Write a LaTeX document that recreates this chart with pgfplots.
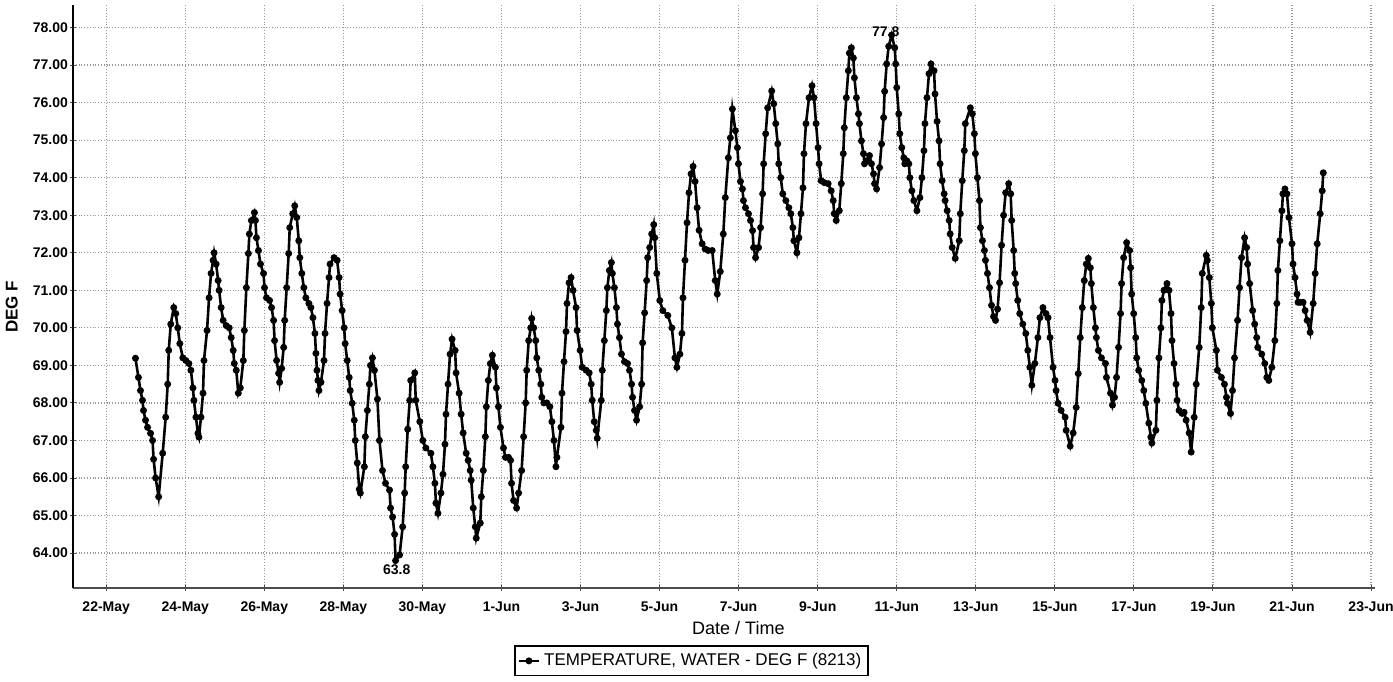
\documentclass[border=0pt]{standalone}
\usepackage{pgfplots}
\pgfplotsset{compat=1.18}
\usepackage{pgfplotstable}
\usepackage{fontspec}
\setmainfont{Liberation Sans}

\pgfplotstableread{
day temp
0.740 69.19
0.816 68.68
0.867 68.33
0.918 68.07
0.944 67.80
0.995 67.54
1.046 67.35
1.122 67.19
1.173 67.00
1.199 66.50
1.250 66.00
1.327 65.50
1.429 66.66
1.505 67.62
1.556 68.50
1.582 69.40
1.633 70.10
1.709 70.54
1.760 70.38
1.811 70.00
1.862 69.58
1.939 69.20
2.015 69.13
2.092 69.05
2.143 68.87
2.194 68.40
2.219 68.07
2.270 67.62
2.321 67.19
2.347 67.09
2.398 67.62
2.449 68.26
2.474 69.13
2.551 69.93
2.602 70.80
2.653 71.45
2.704 71.80
2.730 72.00
2.781 71.70
2.832 71.26
2.857 71.00
2.908 70.54
2.959 70.20
3.036 70.06
3.112 70.00
3.163 69.74
3.214 69.40
3.240 69.05
3.291 68.87
3.342 68.26
3.393 68.40
3.469 69.13
3.495 69.93
3.546 71.07
3.597 71.98
3.622 72.50
3.673 72.86
3.750 73.07
3.776 72.86
3.801 72.40
3.852 72.06
3.903 71.70
3.980 71.45
4.005 71.07
4.056 70.80
4.133 70.73
4.184 70.54
4.235 70.20
4.260 69.66
4.311 69.13
4.362 68.79
4.388 68.55
4.439 68.92
4.490 69.48
4.515 70.20
4.566 71.07
4.617 71.98
4.643 72.67
4.719 73.04
4.770 73.25
4.821 72.94
4.872 72.32
4.898 71.87
4.949 71.45
5.000 71.07
5.051 70.80
5.128 70.65
5.179 70.54
5.230 70.27
5.281 69.85
5.306 69.32
5.332 68.87
5.357 68.60
5.383 68.33
5.434 68.55
5.510 69.13
5.536 69.85
5.587 70.65
5.638 71.34
5.663 71.70
5.765 71.87
5.842 71.80
5.893 71.34
5.918 70.90
5.969 70.46
6.020 70.00
6.046 69.58
6.097 69.13
6.148 68.68
6.173 68.33
6.224 67.99
6.276 67.54
6.301 67.00
6.352 66.40
6.403 65.70
6.429 65.60
6.531 66.30
6.556 67.10
6.607 67.80
6.658 68.50
6.684 69.00
6.735 69.20
6.786 68.87
6.862 68.10
6.913 67.00
6.990 66.20
7.066 65.86
7.168 65.68
7.194 65.20
7.245 64.96
7.296 64.50
7.321 63.80
7.423 63.95
7.500 64.70
7.551 65.60
7.577 66.30
7.628 67.30
7.679 68.07
7.704 68.60
7.806 68.80
7.832 68.07
7.934 67.50
8.010 67.00
8.087 66.80
8.214 66.66
8.265 66.30
8.316 65.86
8.342 65.33
8.393 65.06
8.469 65.60
8.520 66.10
8.571 66.90
8.597 67.70
8.648 68.50
8.699 69.30
8.750 69.70
8.827 69.40
8.852 68.80
8.929 68.26
8.980 67.70
9.031 67.20
9.107 66.66
9.158 66.47
9.209 66.20
9.235 65.94
9.286 65.20
9.337 64.70
9.362 64.40
9.464 64.80
9.490 65.50
9.541 66.20
9.592 67.10
9.617 67.90
9.668 68.60
9.719 69.05
9.770 69.27
9.847 68.95
9.872 68.40
9.923 67.90
9.974 67.35
10.051 66.80
10.102 66.55
10.179 66.55
10.230 66.47
10.255 65.86
10.306 65.40
10.383 65.20
10.434 65.60
10.510 66.20
10.561 67.10
10.612 68.00
10.638 68.87
10.689 69.66
10.740 70.00
10.765 70.25
10.816 70.00
10.867 69.66
10.893 69.20
10.944 68.87
10.995 68.50
11.020 68.15
11.071 68.00
11.148 68.00
11.224 67.90
11.276 67.50
11.327 67.00
11.378 66.30
11.403 66.55
11.505 67.35
11.531 68.26
11.582 69.10
11.633 69.90
11.658 70.65
11.709 71.20
11.760 71.34
11.811 71.00
11.888 70.54
11.913 69.93
11.990 69.40
12.041 68.95
12.143 68.87
12.219 68.80
12.270 68.50
12.296 68.07
12.347 67.50
12.398 67.27
12.423 67.06
12.526 68.07
12.551 68.87
12.602 69.66
12.653 70.46
12.679 71.07
12.730 71.53
12.781 71.74
12.806 71.45
12.857 71.07
12.908 70.54
12.934 70.10
12.985 69.74
13.036 69.30
13.112 69.10
13.189 69.05
13.240 68.87
13.291 68.50
13.316 68.15
13.367 67.80
13.418 67.54
13.495 67.90
13.546 68.50
13.571 69.60
13.622 70.40
13.673 71.26
13.699 71.87
13.750 72.14
13.801 72.50
13.852 72.75
13.878 72.40
13.929 71.45
14.005 70.73
14.082 70.46
14.209 70.33
14.311 70.00
14.388 69.20
14.439 68.95
14.515 69.30
14.566 69.85
14.592 70.80
14.643 71.80
14.694 72.80
14.745 73.60
14.796 74.10
14.847 74.30
14.898 73.90
14.949 73.20
15.000 72.60
15.077 72.24
15.153 72.10
15.230 72.06
15.332 72.06
15.408 71.26
15.459 70.90
15.536 71.50
15.612 72.50
15.663 73.47
15.740 74.53
15.791 75.06
15.842 75.83
15.918 75.25
15.969 74.80
15.995 74.37
16.046 73.90
16.097 73.70
16.122 73.39
16.173 73.20
16.250 73.04
16.301 72.86
16.352 72.59
16.378 72.14
16.429 71.87
16.505 72.14
16.556 72.67
16.607 73.57
16.633 74.37
16.684 75.17
16.735 75.86
16.837 76.31
16.888 75.97
16.939 75.44
16.990 74.90
17.015 74.37
17.066 74.00
17.117 73.57
17.194 73.39
17.270 73.20
17.321 73.04
17.372 72.67
17.398 72.32
17.474 72.00
17.526 72.40
17.577 73.04
17.628 73.73
17.653 74.64
17.704 75.44
17.781 76.13
17.857 76.45
17.908 76.13
17.959 75.44
18.010 74.80
18.036 74.37
18.087 73.92
18.163 73.87
18.265 73.84
18.342 73.65
18.393 73.39
18.418 73.04
18.469 72.86
18.546 73.12
18.597 73.84
18.648 74.64
18.673 75.33
18.724 76.13
18.776 76.85
18.801 77.32
18.852 77.46
18.903 77.19
18.929 76.66
18.980 76.13
19.031 75.70
19.056 75.44
19.107 74.98
19.158 74.64
19.184 74.37
19.235 74.45
19.311 74.59
19.362 74.37
19.413 74.10
19.439 73.84
19.490 73.70
19.566 74.27
19.617 74.90
19.668 75.60
19.694 76.30
19.745 77.03
19.796 77.50
19.872 77.80
19.949 77.46
19.974 77.03
20.000 76.40
20.051 75.70
20.077 75.17
20.128 74.80
20.179 74.53
20.204 74.37
20.255 74.45
20.306 74.37
20.332 74.00
20.383 73.65
20.434 73.39
20.510 73.12
20.587 73.47
20.638 74.00
20.689 74.72
20.714 75.44
20.765 76.13
20.816 76.77
20.867 77.03
20.944 76.85
20.969 76.23
21.020 75.50
21.071 74.98
21.097 74.37
21.148 73.92
21.199 73.57
21.224 73.39
21.276 73.12
21.327 72.86
21.352 72.50
21.403 72.14
21.480 71.85
21.582 72.32
21.607 73.04
21.658 73.92
21.709 74.72
21.735 75.44
21.862 75.86
21.913 75.70
21.964 75.17
21.990 74.64
22.041 74.00
22.092 73.39
22.117 72.67
22.168 72.32
22.219 72.06
22.245 71.80
22.296 71.45
22.347 71.07
22.398 70.60
22.449 70.30
22.500 70.20
22.551 70.50
22.602 71.20
22.653 72.20
22.704 73.00
22.755 73.60
22.832 73.84
22.883 73.57
22.908 72.86
22.959 72.06
22.985 71.45
23.010 71.18
23.061 70.73
23.112 70.38
23.189 70.10
23.265 69.85
23.316 69.40
23.367 68.95
23.418 68.47
23.495 69.05
23.571 69.74
23.622 70.27
23.699 70.54
23.776 70.38
23.827 70.27
23.878 69.74
23.954 68.95
24.005 68.60
24.031 68.33
24.082 67.99
24.158 67.80
24.260 67.62
24.286 67.27
24.388 66.85
24.464 67.20
24.541 67.88
24.592 68.78
24.643 69.74
24.694 70.54
24.745 71.26
24.796 71.70
24.847 71.85
24.898 71.60
24.923 71.18
24.974 70.54
25.026 70.00
25.051 69.74
25.102 69.40
25.179 69.20
25.281 69.05
25.306 68.68
25.408 68.26
25.459 67.94
25.510 68.15
25.561 68.68
25.612 69.48
25.663 70.38
25.689 71.18
25.740 71.87
25.816 72.27
25.893 72.06
25.918 71.60
25.944 70.90
25.995 70.38
26.046 69.74
26.071 69.20
26.122 68.87
26.199 68.60
26.250 68.33
26.301 67.99
26.378 67.46
26.429 67.09
26.454 66.93
26.556 67.27
26.582 68.07
26.633 69.20
26.684 70.00
26.709 70.73
26.760 71.00
26.837 71.18
26.888 71.00
26.939 70.38
26.964 69.66
27.015 69.05
27.066 68.50
27.092 68.07
27.143 67.80
27.219 67.72
27.270 67.75
27.321 67.54
27.398 67.20
27.449 66.69
27.526 67.62
27.577 68.50
27.653 69.48
27.704 70.54
27.730 71.45
27.832 71.93
27.857 71.80
27.908 71.34
27.959 70.65
27.985 70.00
28.087 69.40
28.112 68.87
28.214 68.68
28.291 68.50
28.342 68.15
28.367 67.99
28.444 67.72
28.495 68.33
28.546 69.20
28.622 70.20
28.673 71.07
28.724 71.87
28.801 72.40
28.852 72.14
28.878 71.70
28.929 71.18
29.005 70.46
29.056 70.10
29.107 69.74
29.133 69.48
29.235 69.30
29.311 69.05
29.362 68.68
29.413 68.60
29.490 68.95
29.566 69.66
29.617 70.65
29.643 71.53
29.694 72.32
29.745 73.12
29.770 73.57
29.821 73.70
29.872 73.57
29.923 72.94
30.000 72.24
30.026 71.70
30.077 71.34
30.128 70.90
30.153 70.68
30.204 70.68
30.281 70.68
30.332 70.46
30.383 70.20
30.459 69.88
30.536 70.65
30.587 71.45
30.638 72.24
30.714 73.04
30.765 73.65
30.791 74.13
}\tempdata

\begin{document}
\begin{tikzpicture}
\path[use as bounding box] (0pt,0pt) rectangle (696.5pt,340.5pt);
\begin{axis}[
  at={(36.5pt,46.5pt)}, anchor=south west,
  width=651pt, height=291.5pt, scale only axis,
  xmin=-0.84, xmax=32.1, ymin=63.07, ymax=78.6,
  axis x line*=bottom, axis y line*=left,
  axis line style={line width=1.1pt},
  x axis line style={black!70},
  y axis line style={black},
  xtick={0,2,...,32},
  xticklabels={22-May,24-May,26-May,28-May,30-May,1-Jun,3-Jun,5-Jun,7-Jun,9-Jun,11-Jun,13-Jun,15-Jun,17-Jun,19-Jun,21-Jun,23-Jun},
  ytick={64,65,...,78},
  yticklabels={64.00,65.00,66.00,67.00,68.00,69.00,70.00,71.00,72.00,73.00,74.00,75.00,76.00,77.00,78.00},
  tick label style={font=\fontsize{7}{8}\selectfont\bfseries},
  xticklabel style={yshift=-2pt},
  yticklabel style={xshift=2.5pt},
  tick align=center, major tick length=3pt,
  tick style={black!70, line width=0.5pt},
  grid=major,
  grid style={densely dotted, black!40, line width=0.6pt},
  xlabel={Date / Time},
  ylabel={DEG F},
  x label style={at={(axis description cs:0.511,0)}, anchor=center, yshift=-20pt, font=\fontsize{9}{10}\selectfont},
  y label style={at={(axis description cs:-0.047,0.482)}, anchor=center, font=\fontsize{8.5}{10}\selectfont\bfseries},
  legend style={at={(axis description cs:0.475,-0.125)}, anchor=center,
    draw=black, line width=0.9pt, inner sep=1.5pt,
    font=\fontsize{8.5}{10}\selectfont, legend cell align=left},
  legend image code/.code={
    \draw[#1, mark repeat=2, mark phase=2] plot coordinates {(0pt,0pt) (5pt,0pt) (10pt,0pt)};
  },
]
\addplot[black, line width=1.3pt, mark=*, mark size=1.05pt, mark options={fill=black}] table[x=day, y=temp] {\tempdata};
\addlegendentry{TEMPERATURE, WATER - DEG F (8213)}
\node[anchor=south, font=\fontsize{7}{8}\selectfont\bfseries, inner sep=1pt] at (axis cs:19.72,77.68) {77.8};
\node[anchor=north, font=\fontsize{7}{8}\selectfont\bfseries, inner sep=1pt] at (axis cs:7.35,63.75) {63.8};
\end{axis}
\end{tikzpicture}
\end{document}
